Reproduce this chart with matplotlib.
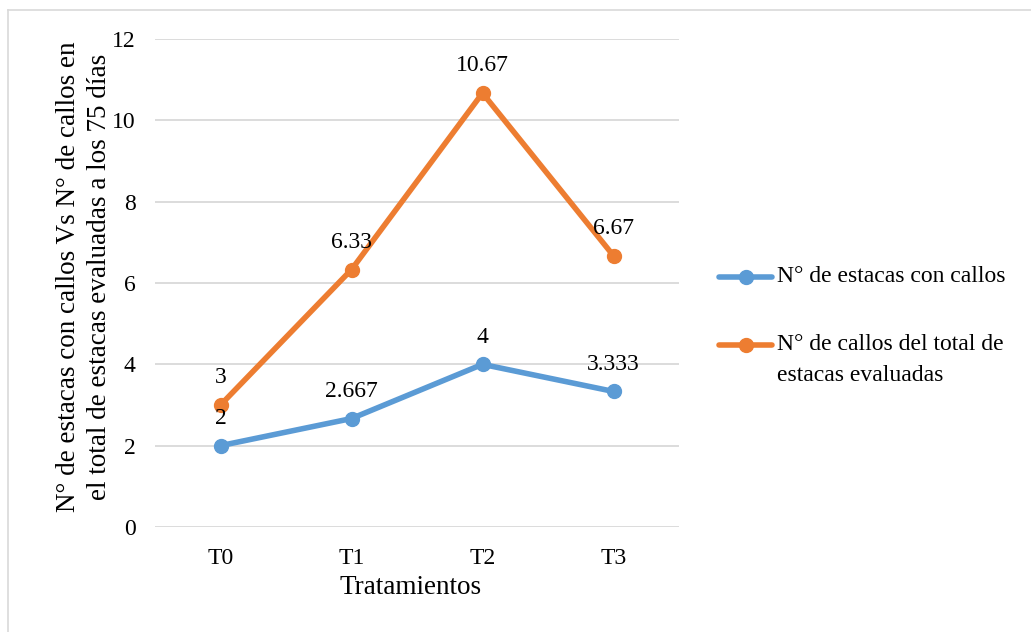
import matplotlib
matplotlib.use("Agg")
import matplotlib.pyplot as plt
from matplotlib.lines import Line2D

categories = ["T0", "T1", "T2", "T3"]
estacas_con_callos = [2, 2.667, 4, 3.333]
callos_total = [3, 6.33, 10.67, 6.67]
labels_estacas = ["2", "2.667", "4", "3.333"]
labels_callos = ["3", "6.33", "10.67", "6.67"]
series_names = ["N° de estacas con callos", "N° de callos del total de", "estacas evaluadas"]

plt.rcParams['font.family'] = ['Liberation Serif', 'DejaVu Serif']

blue = "#5B9BD5"
orange = "#ED7D31"
fs = 17
fs_title = 19.5
W, H = 1031, 632

fig = plt.figure(figsize=(W/100, H/100), dpi=100)
ax = fig.add_axes([155/W, 1-527/H, (679-155)/W, (527-39)/H])

x = list(range(len(categories)))
ax.plot(x, estacas_con_callos, color=blue, lw=4, marker='o', ms=10, solid_capstyle='round', zorder=3)
ax.plot(x, callos_total, color=orange, lw=4, marker='o', ms=10, solid_capstyle='round', zorder=3)

for xi, v, t in zip(x, estacas_con_callos, labels_estacas):
    ax.annotate(t, (xi, v), xytext=(0, 12), textcoords='offset points', ha='center', va='bottom', fontsize=fs)
for xi, v, t in zip(x, callos_total, labels_callos):
    ax.annotate(t, (xi, v), xytext=(0, 12), textcoords='offset points', ha='center', va='bottom', fontsize=fs)

ax.set_xlim(-0.5, 3.5)
ax.set_ylim(0, 12)
ax.set_yticks([0, 2, 4, 6, 8, 10, 12])
ax.set_xticks(x)
ax.set_xticklabels(categories)
ax.tick_params(axis='both', length=0, labelsize=fs)
ax.tick_params(axis='x', pad=15)
ax.tick_params(axis='y', pad=14)
ax.grid(axis='y', color='#D9D9D9', lw=1.3)
ax.set_axisbelow(True)
for s in ax.spines.values():
    s.set_visible(False)

fig.text(411/W, 1-588/H, "Tratamientos", fontsize=fs_title, ha='center', va='center')
fig.text(84/W, 1-277/H, "N° de estacas con callos Vs N° de callos en\nel total de estacas evaluadas a los 75 días",
         fontsize=fs_title, rotation=90, ha='center', va='center', linespacing=1.3, multialignment='center')

# legend drawn manually (Excel-style layout: marker aligned with first text line)
colors = [blue, orange]
ys = [277, 345]
for c, yy in zip(colors, ys):
    fy = 1 - yy/H
    fig.add_artist(Line2D([719/W, 772/W], [fy, fy], color=c, lw=4, solid_capstyle='round'))
    fig.add_artist(Line2D([745.5/W], [fy], color=c, marker='o', ms=10, lw=0))
for name, yy in zip(series_names, [277, 345, 375]):
    fig.text(777/W, 1 - yy/H, name, fontsize=fs, ha='left', va='center')

fig.add_artist(Line2D([8/W, 1], [1-10/H, 1-10/H], color='#D9D9D9', lw=1.2))
fig.add_artist(Line2D([8/W, 8/W], [0, 1-10/H], color='#D9D9D9', lw=1.2))

fig.savefig("out.png", dpi=100)
